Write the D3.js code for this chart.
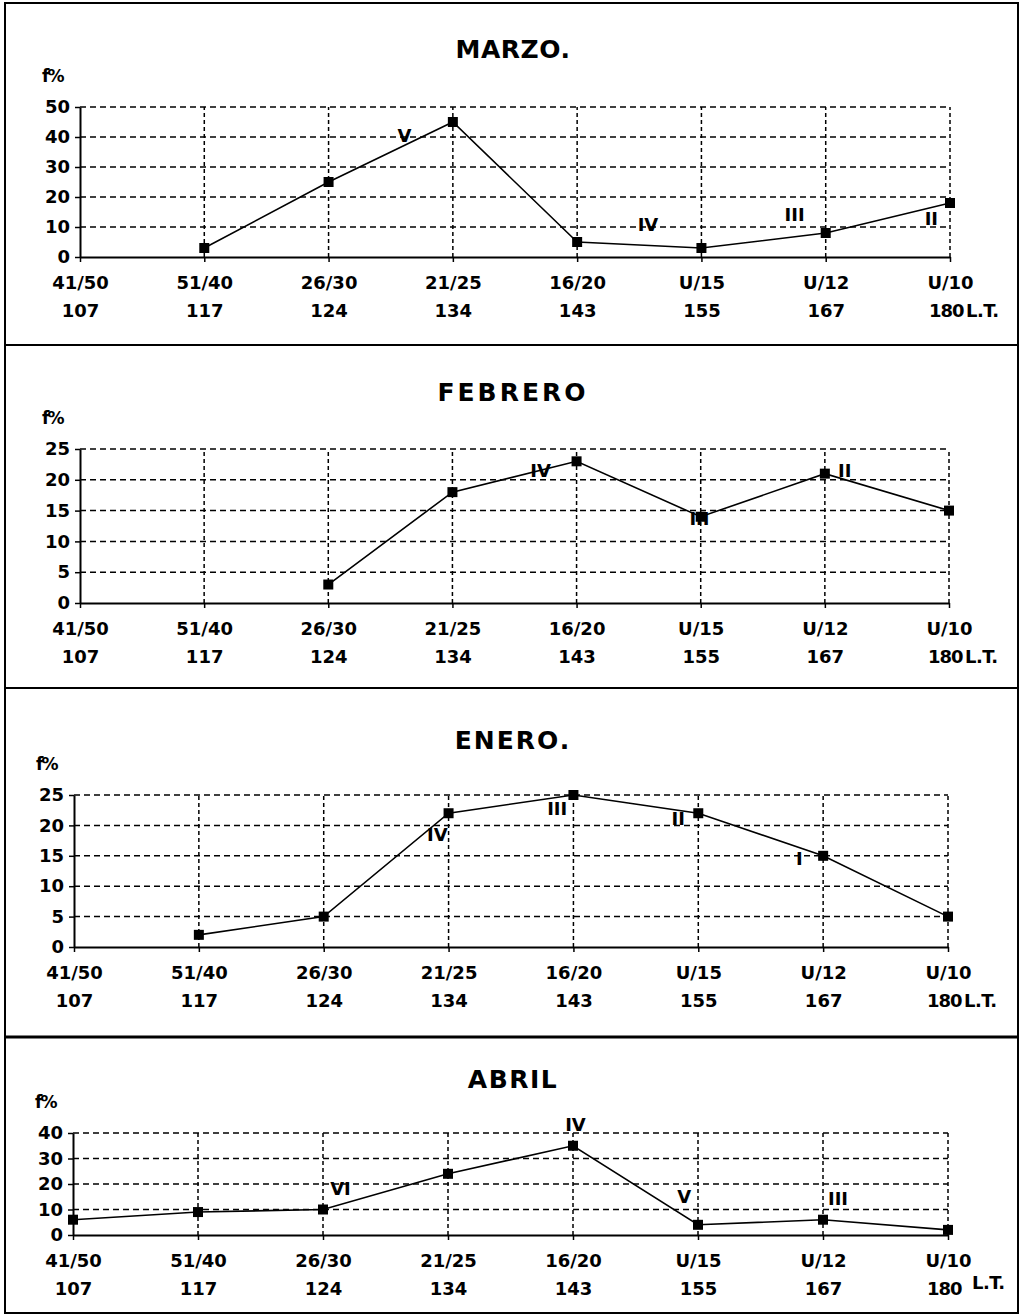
<html>
<head>
<meta charset="utf-8">
<style>
  body { margin: 0; background: #fff; }
  text { font-family: "DejaVu Sans", "Liberation Sans", Arial, sans-serif; font-weight: bold; fill: #000; }
</style>
</head>
<body>
<div id="chart"></div>

<script type="text/javascript" src="https://cdn.jsdelivr.net/npm/d3@7/dist/d3.min.js"></script>

<script type="text/javascript">
// categories (size code / length)
var sizeCodes = ["41/50", "51/40", "26/30", "21/25", "16/20", "U/15", "U/12", "U/10"]
var lengths = ["107", "117", "124", "134", "143", "155", "167", "180"]

// f% per month, null = no point
var marzo = [null, 3, 25, 45, 5, 3, 8, 18]
var febrero = [null, null, 3, 18, 23, 14, 21, 15]
var enero = [null, 2, 5, 22, 25, 22, 15, 5]
var abril = [6, 9, 10, 24, 35, 4, 6, 2]

// y tick values
var ticksMarzo = [0, 10, 20, 30, 40, 50]
var ticksFebrero = [0, 5, 10, 15, 20, 25]
var ticksEnero = [0, 5, 10, 15, 20, 25]
var ticksAbril = [0, 10, 20, 30, 40]

// roman numeral notes: position in (category index, f%)
var notesMarzo = [{i: 2.61, v: 40.7, t: "V"}, {i: 4.57, v: 11, t: "IV"}, {i: 5.75, v: 14.3, t: "III"}, {i: 6.85, v: 13, t: "II"}]
var notesFebrero = [{i: 3.71, v: 21.6, t: "IV"}, {i: 4.99, v: 13.8, t: "III"}, {i: 6.16, v: 21.6, t: "II"}]
var notesEnero = [{i: 2.91, v: 18.6, t: "IV"}, {i: 3.87, v: 22.9, t: "III"}, {i: 4.84, v: 21.2, t: "II"}, {i: 5.81, v: 14.6, t: "I"}]
var notesAbril = [{i: 2.14, v: 18.4, t: "VI"}, {i: 4.02, v: 43.4, t: "IV"}, {i: 4.89, v: 15.2, t: "V"}, {i: 6.12, v: 14.5, t: "III"}]

var W = 1024, H = 1316

var svg = d3.select("#chart").append("svg")
  .attr("width", W).attr("height", H)

// layout of the four panels
var panels = [
  {title: "MARZO.",  values: marzo,   ticks: ticksMarzo,   notes: notesMarzo,   x0: 80, x1: 950, top: 107,  bottom: 257,  titleY: 58,   ls: 0.5, ltX: 16, ltY: 60},
  {title: "FEBRERO", values: febrero, ticks: ticksFebrero, notes: notesFebrero, x0: 80, x1: 949, top: 449,  bottom: 603,  titleY: 401,  ls: 3,   ltX: 16, ltY: 60},
  {title: "ENERO.",  values: enero,   ticks: ticksEnero,   notes: notesEnero,   x0: 74, x1: 948, top: 795,  bottom: 947,  titleY: 749,  ls: 2,   ltX: 16, ltY: 60},
  {title: "ABRIL",   values: abril,   ticks: ticksAbril,   notes: notesAbril,   x0: 73, x1: 948, top: 1133, bottom: 1235, titleY: 1088, ls: 1.5, ltX: 24, ltY: 54}
]

// outer frame and separators
svg.append("rect").attr("x", 5).attr("y", 3).attr("width", 1013).attr("height", 1310)
  .attr("fill", "none").attr("stroke", "#000").attr("stroke-width", 2)
var seps = [345, 688, 1037]
svg.selectAll("line.sep").data(seps).enter().append("line")
  .attr("class", "sep")
  .attr("x1", 5).attr("x2", 1018).attr("y1", d => d).attr("y2", d => d)
  .attr("stroke", "#000").attr("stroke-width", (d, i) => i == 2 ? 3 : 2)

var drawPanel = function(p) {
  var g = svg.append("g")
  var x = d3.scalePoint().domain(sizeCodes).range([p.x0, p.x1])
  var xi = d3.scaleLinear().domain([0, sizeCodes.length - 1]).range([p.x0, p.x1])
  var yMax = d3.max(p.ticks)
  var y = d3.scaleLinear().domain([0, yMax]).range([p.bottom, p.top])
  var last = sizeCodes[sizeCodes.length - 1]

  // title and unit
  g.append("text").attr("x", 513).attr("y", p.titleY).attr("text-anchor", "middle")
    .style("font-size", "25px").style("letter-spacing", p.ls + "px").text(p.title)
  g.append("text").attr("x", p.x0 - 38).attr("y", p.top - 25)
    .style("font-size", "17px").style("letter-spacing", "-2px").text("f%")

  // grid
  g.selectAll("line.hgrid").data(p.ticks.filter(d => d > 0)).enter().append("line")
    .attr("x1", p.x0).attr("x2", p.x1).attr("y1", d => y(d)).attr("y2", d => y(d))
    .attr("stroke", "#000").attr("stroke-width", 1.5).attr("stroke-dasharray", "6,4")
  g.selectAll("line.vgrid").data(sizeCodes.slice(1)).enter().append("line")
    .attr("x1", d => x(d)).attr("x2", d => x(d)).attr("y1", y(0)).attr("y2", y(yMax))
    .attr("stroke", "#000").attr("stroke-width", 1.5).attr("stroke-dasharray", "4,3")

  // axes
  var xAxis = d3.axisBottom(x).tickSize(5).tickSizeOuter(0).tickPadding(11)
  var gx = g.append("g").attr("transform", "translate(0," + y(0) + ")").call(xAxis)
  gx.selectAll("text").style("font-size", "18px").attr("dy", null).attr("y", 32)
  gx.selectAll(".tick").append("text")
    .attr("y", 60).attr("fill", "#000")
    .attr("x", d => d == last ? 13 : 0)
    .attr("text-anchor", d => d == last ? "end" : "middle")
    .style("font-size", "18px")
    .style("letter-spacing", d => d == last ? "-1px" : null)
    .text(d => lengths[sizeCodes.indexOf(d)])
  gx.append("text").attr("x", p.x1 + p.ltX).attr("y", p.ltY)
    .attr("text-anchor", "start")
    .style("font-size", "18px").style("letter-spacing", "-0.5px").text("L.T.")

  var yAxis = d3.axisLeft(y).tickValues(p.ticks).tickSize(5).tickSizeOuter(0).tickPadding(5)
  var gy = g.append("g").attr("transform", "translate(" + p.x0 + ",0)").call(yAxis)
  gy.selectAll("text").style("font-size", "18px")

  g.selectAll(".domain").attr("stroke", "#000").attr("stroke-width", 2)
  g.selectAll(".tick line").attr("stroke", "#000").attr("stroke-width", 1.5)
  g.selectAll(".tick text").attr("fill", "#000")

  // series
  var pts = p.values.map((v, i) => ({c: sizeCodes[i], v: v}))
  var line = d3.line().defined(d => d.v != null).x(d => x(d.c)).y(d => y(d.v))
  g.append("path").datum(pts)
    .attr("fill", "none").attr("stroke", "#000").attr("stroke-width", 1.6)
    .attr("d", line)
  g.selectAll("rect.pt").data(pts.filter(d => d.v != null)).enter().append("rect")
    .attr("x", d => x(d.c) - 5).attr("y", d => y(d.v) - 5)
    .attr("width", 10).attr("height", 10).attr("fill", "#000")

  // roman numeral notes
  g.selectAll("text.note").data(p.notes).enter().append("text")
    .attr("x", d => xi(d.i)).attr("y", d => y(d.v) + 7)
    .attr("text-anchor", "middle").style("font-size", "18px")
    .text(d => d.t)
}

panels.forEach(drawPanel)
</script>
</body>
</html>
